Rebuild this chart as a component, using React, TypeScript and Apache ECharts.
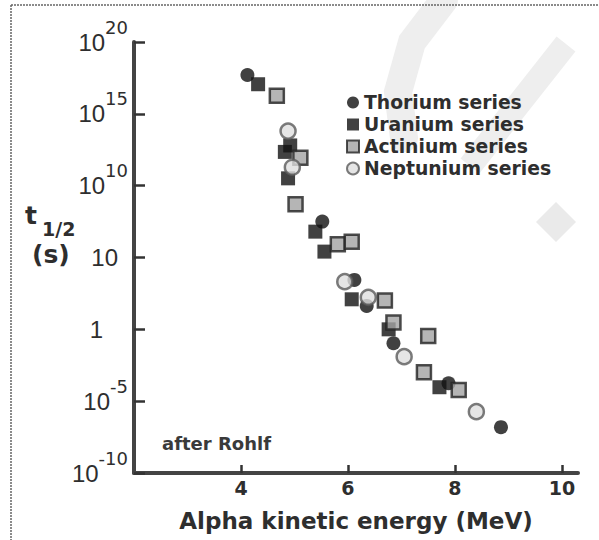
import React, { useEffect, useRef } from "react";
import * as echarts from "echarts";

// Alpha kinetic energy (MeV) vs log10 of half-life (s)
const thoriumX = [4.12, 5.52, 6.12, 6.35, 6.85, 7.88, 8.86];
const thoriumY = [17.7, 7.5, 3.44, 1.63, -0.97, -3.75, -6.81];

const uraniumX = [4.32, 4.92, 4.82, 4.88, 5.39, 5.56, 6.07, 6.76, 7.71];
const uraniumY = [17.06, 12.8, 12.35, 10.51, 6.8, 5.41, 2.09, 0.0, -4.03];

const actiniumX = [4.67, 5.11, 5.02, 5.81, 6.07, 6.69, 6.85, 7.5, 7.42, 8.07];
const actiniumY = [16.26, 11.95, 8.7, 5.92, 6.1, 2.0, 0.47, -0.46, -2.99, -4.22];

const neptuniumX = [4.88, 4.96, 5.94, 6.38, 7.05, 8.4];
const neptuniumY = [13.8, 11.28, 3.32, 2.23, -1.9, -5.73];

const seriesNames = ["Thorium series", "Uranium series", "Actinium series", "Neptunium series"];

const xTickValues = [4, 6, 8, 10];
const yTickValues = [-10, -5, 0, 5, 10, 15, 20];
const yTickBases = ["10", "10", "1", "10", "10", "10", "10"];
const yTickExps = ["-10", "-5", "", "", "10", "15", "20"];

const zip = (xs: number[], ys: number[]) => xs.map((x, i) => [x, ys[i]]);

const TXT = "#2e2e2e";
const BOLD = { fontFamily: "DejaVu Sans", fontWeight: "bold" as const };

export default function App() {
  const ref = useRef<HTMLDivElement>(null);
  useEffect(() => {
    if (!ref.current) return;
    const chart = echarts.init(ref.current, null, { renderer: "svg" });
    const option: any = {
      animation: false,
      backgroundColor: "#ffffff",
      grid: { left: 134, top: 42, right: 21, bottom: 67, containLabel: false },
      xAxis: {
        type: "value",
        min: 2,
        max: 10.3,
        name: "Alpha kinetic energy (MeV)",
        nameLocation: "middle",
        nameGap: 36,
        nameTextStyle: { ...BOLD, fontSize: 23, color: TXT },
        axisLine: { show: true, onZero: false, lineStyle: { color: "#444", width: 4 } },
        axisTick: { show: true, inside: true, length: 8, customValues: xTickValues, lineStyle: { color: "#333", width: 2.5 } },
        axisLabel: { customValues: xTickValues, margin: 5, ...BOLD, fontSize: 19, color: TXT },
        splitLine: { show: false },
      },
      yAxis: {
        type: "value",
        min: -10,
        max: 20,
        interval: 5,
        axisLine: { show: true, onZero: false, lineStyle: { color: "#444", width: 4 } },
        axisTick: { show: true, inside: true, length: 11, lineStyle: { color: "#333", width: 2.5 } },
        splitLine: { show: false },
        axisLabel: {
          margin: 6,
          formatter: (v: number) => {
            const i = yTickValues.indexOf(v);
            if (i < 0) return "";
            const b = yTickBases[i];
            const e = yTickExps[i];
            if (e) return `{b|${b}}{s|${e}}`;
            return b === "1" ? `{b1|${b}}` : `{b10|${b}}`;
          },
          rich: {
            b: { fontFamily: "Liberation Sans", fontSize: 24, color: TXT, lineHeight: 24 },
            b10: { fontFamily: "Liberation Sans", fontSize: 24, color: TXT, lineHeight: 24, padding: [0, 10, 0, 0] },
            b1: { fontFamily: "Liberation Sans", fontSize: 24, color: TXT, lineHeight: 24, padding: [0, 25, 0, 0] },
            s: { fontFamily: "DejaVu Sans", fontSize: 18, color: TXT, lineHeight: 18, padding: [0, 0, 30, 0] },
          },
        },
      },
      legend: {
        orient: "vertical",
        left: 341,
        top: 87,
        itemWidth: 12,
        itemHeight: 12,
        itemGap: 1,
        textStyle: { ...BOLD, fontSize: 18.8, color: TXT, lineHeight: 21 },
        data: [
          { name: seriesNames[0], icon: "circle" },
          { name: seriesNames[1], icon: "rect" },
          { name: seriesNames[2], icon: "rect" },
          { name: seriesNames[3], icon: "circle" },
        ],
      },
      graphic: [
        { type: "polyline", z: -10, shape: { points: [[444, 0], [412, 42], [398, 92], [404, 138]] }, style: { stroke: "#eeeeee", lineWidth: 28, fill: null, lineCap: "round" }, silent: true },
        { type: "polyline", z: -10, shape: { points: [[566, 44], [470, 166]] }, style: { stroke: "#eeeeee", lineWidth: 24, fill: null }, silent: true },
        { type: "polygon", z: -10, shape: { points: [[556, 202], [576, 222], [556, 242], [536, 222]] }, style: { fill: "#eaeaea" }, silent: true },
        { type: "line", shape: { x1: 11, y1: 5, x2: 599, y2: 5 }, style: { stroke: "#666", lineWidth: 1.5, lineDash: [2, 1] }, silent: true },
        { type: "line", shape: { x1: 11, y1: 5, x2: 11, y2: 540 }, style: { stroke: "#666", lineWidth: 1.5, lineDash: [2, 1] }, silent: true },
        { type: "text", left: 25, top: 203, style: { text: "t", ...BOLD, fontSize: 25, fill: TXT } },
        { type: "text", left: 42, top: 219, style: { text: "1/2", ...BOLD, fontSize: 19, fill: TXT } },
        { type: "text", left: 32, top: 242, style: { text: "(s)", ...BOLD, fontSize: 25, fill: TXT } },
        { type: "text", left: 162, top: 434, style: { text: "after Rohlf", ...BOLD, fontSize: 18, fill: "#3a3a3a" } },
      ],
      series: [
        {
          name: seriesNames[0], type: "scatter", symbol: "circle", symbolSize: 14, z: 2,
          itemStyle: { color: "#111111" }, data: zip(thoriumX, thoriumY),
        },
        {
          name: seriesNames[1], type: "scatter", symbol: "rect", symbolSize: 14, z: 3,
          itemStyle: { color: "#111111" }, data: zip(uraniumX, uraniumY),
        },
        {
          name: seriesNames[2], type: "scatter", symbol: "rect", symbolSize: 14, z: 4,
          itemStyle: { color: "#a3a3a3", borderColor: "#222222", borderWidth: 2.5 }, data: zip(actiniumX, actiniumY),
        },
        {
          name: seriesNames[3], type: "scatter", symbol: "circle", symbolSize: 15, z: 5,
          itemStyle: { color: "#dedede", borderColor: "#5a5a5a", borderWidth: 2.5 }, data: zip(neptuniumX, neptuniumY),
        },
      ],
    };
    chart.setOption(option);
    return () => chart.dispose();
  }, []);
  return (
    <div
      ref={ref}
      style={{ position: "fixed", left: 0, top: 0, width: 599, height: 540, background: "#fff" }}
    />
  );
}
